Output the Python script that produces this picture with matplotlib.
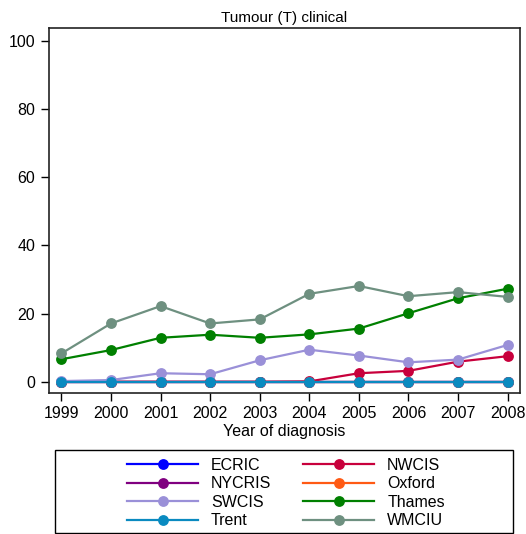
import matplotlib
matplotlib.use("Agg")
import matplotlib.pyplot as plt
from matplotlib.patches import Rectangle

plt.rcParams['font.family'] = ['Liberation Sans', 'DejaVu Sans']

years = [1999, 2000, 2001, 2002, 2003, 2004, 2005, 2006, 2007, 2008]

ecric = [0, 0, 0, 0, 0, 0, 0, 0, 0, 0]
nwcis = [0, 0, 0, 0, 0, 0.1, 2.5, 3.2, 5.9, 7.5]
nycris = [0, 0, 0, 0, 0, 0, 0, 0, 0, 0]
oxford = [0, 0, 0, 0, 0, 0, 0, 0, 0, 0]
swcis = [0.2, 0.5, 2.5, 2.2, 6.3, 9.4, 7.7, 5.7, 6.5, 10.8]
thames = [6.6, 9.3, 12.9, 13.8, 12.9, 13.9, 15.6, 20.1, 24.5, 27.3]
trent = [0, 0, 0, 0, 0, 0, 0, 0, 0, 0]
wmciu = [8.3, 17.1, 22.2, 17.1, 18.3, 25.8, 28.1, 25.1, 26.3, 24.9]

series = [
    ("ECRIC", ecric, "#0000ff"),
    ("NWCIS", nwcis, "#c8003c"),
    ("NYCRIS", nycris, "#800080"),
    ("Oxford", oxford, "#ff5a14"),
    ("SWCIS", swcis, "#9a90d8"),
    ("Thames", thames, "#008000"),
    ("WMCIU", wmciu, "#6e9080"),
    ("Trent", trent, "#0a8ac0"),
]

W, H = 526, 534
fig = plt.figure(figsize=(W / 100, H / 100), dpi=100)
ax = fig.add_axes([48.5 / W, 1 - 393 / H, (520 - 48.5) / W, (393 - 28) / H])

handles = {}
for name, vals, col in series:
    ln, = ax.plot(years, vals, color=col, lw=1.6, marker='o', markersize=7.8,
                  markeredgewidth=0, label=name)
    handles[name] = ln

ax.set_xlim(1998.74, 2008.25)
ax.set_ylim(-3.3, 103.8)
ax.set_xticks(years)
ax.set_yticks([0, 20, 40, 60, 80, 100])
ax.tick_params(direction='out', length=6, width=1, labelsize=11.5, colors='black')
ax.tick_params(axis='x', pad=3)
for sp in ax.spines.values():
    sp.set_linewidth(1.2)
    sp.set_color('#222222')

ax.set_title("Tumour (T) clinical", fontsize=11, pad=4)
ax.set_xlabel("Year of diagnosis", fontsize=11.5, labelpad=2.5)

order = ["ECRIC", "NYCRIS", "SWCIS", "Trent", "NWCIS", "Oxford", "Thames", "WMCIU"]
leg = fig.legend([handles[n] for n in order], order, loc='center',
                 bbox_to_anchor=(286 / W, 1 - 493 / H), ncol=2, frameon=False,
                 fontsize=11.5, handlelength=4.45, handletextpad=0.8,
                 columnspacing=2.0, labelspacing=0.22)

fig.patches.append(Rectangle((55 / W, 1 - 533 / H), (513 - 55) / W, (533 - 450) / H,
                             transform=fig.transFigure, fill=False, lw=1.0,
                             edgecolor='black'))

fig.savefig("out.png", dpi=100)
